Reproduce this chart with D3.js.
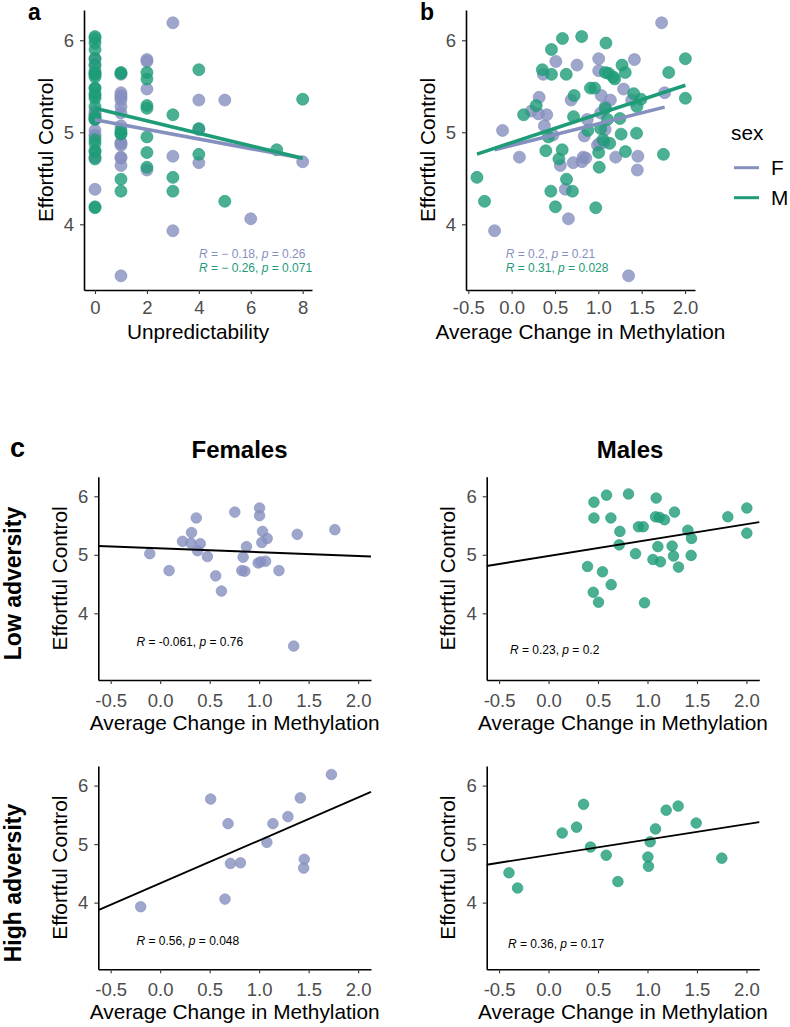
<!DOCTYPE html>
<html><head><meta charset="utf-8">
<script src="https://cdn.jsdelivr.net/npm/d3@7"></script>
<style>body{margin:0;background:#fff} svg{display:block}</style>
</head><body>
<svg id="chart" width="790" height="1027"></svg>
<script>
// ---------------- DATA ----------------
const sexLevels = ["F", "M"];
const sexColors = ["#8690BF", "#1E9C78"];

// Females, low adversity
const femLowMeth = [-0.105, 0.09, 0.226, 0.317, 0.365, 0.31, 0.405, 0.378, 0.477, 0.561, 0.619, 0.754, 0.872, 0.838, 0.825, 0.855, 1.004, 1.004, 1.034, 1.081, 1.027, 0.99, 1.014, 1.065, 1.20, 1.385, 1.765, 1.349];
const femLowEC = [5.02, 4.73, 5.23, 5.38, 5.63, 5.20, 5.19, 5.07, 4.97, 4.64, 4.38, 5.73, 5.14, 4.96, 4.73, 4.72, 5.80, 5.67, 5.40, 5.28, 5.21, 4.86, 4.88, 4.89, 4.73, 5.35, 5.43, 3.44];
const femLowUnpred = [0, 0, 0, 1, 1, 0, 0, 1, 0, 1, 0, 0, 0, 0, 0, 1, 0, 0, 1, 1, 1, 1, 1, 1, 1, 1, 1, 1];

// Females, high adversity
const femHighMeth = [-0.197, 0.51, 0.686, 0.655, 0.71, 0.811, 1.078, 1.139, 1.291, 1.416, 1.456, 1.45, 1.73];
const femHighEC = [3.93, 5.77, 5.35, 4.06, 4.67, 4.68, 5.03, 5.35, 5.47, 5.79, 4.74, 4.59, 6.19];
const femHighUnpred = [3, 2, 4, 6, 4, 8, 4, 5, 2, 2, 3, 2, 3];

// Males, low adversity
const maleLowMeth = [0.459, 0.586, 0.808, 1.088, 0.459, 0.630, 1.273, 1.081, 1.121, 1.172, 0.909, 0.957, 0.721, 1.812, 2.004, 2.004, 1.408, 1.445, 0.714, 1.105, 1.249, 0.879, 1.263, 1.441, 1.055, 1.131, 1.313, 0.394, 0.545, 0.633, 0.452, 0.505, 0.97];
const maleLowEC = [5.90, 6.02, 6.04, 5.97, 5.63, 5.63, 5.73, 5.65, 5.64, 5.60, 5.48, 5.48, 5.40, 5.65, 5.80, 5.37, 5.42, 5.28, 5.17, 5.14, 5.15, 5.02, 4.98, 4.99, 4.92, 4.88, 4.79, 4.80, 4.71, 4.49, 4.36, 4.19, 4.18];
const maleLowUnpred = [0, 0, 0, 0, 0, 0, 0, 1, 1, 0, 0, 0, 0, 0, 0, 0, 0, 0, 0, 0, 0, 1, 1, 1, 0, 0, 0, 0, 0, 1, 1, 0, 0];

// Males, high adversity
const maleHighMeth = [-0.40, -0.313, 0.138, 0.283, 0.354, 0.424, 0.583, 0.701, 1.004, 1.01, 1.027, 1.081, 1.189, 1.31, 1.492, 1.751];
const maleHighEC = [4.51, 4.25, 5.19, 5.29, 5.68, 4.95, 4.81, 4.36, 4.78, 4.62, 5.04, 5.26, 5.58, 5.65, 5.36, 4.76];
const maleHighUnpred = [3, 5, 3, 2, 4, 2, 7, 3, 2, 2, 4, 2, 2, 2, 8, 4];

// Ticks
const ecTicks = [4, 5, 6];
const ecTickLabels = ["4", "5", "6"];
const unpredTicks = [0, 2, 4, 6, 8];
const unpredTickLabels = ["0", "2", "4", "6", "8"];
const methTicks = [-0.5, 0, 0.5, 1, 1.5, 2];
const methTickLabels = ["-0.5", "0.0", "0.5", "1.0", "1.5", "2.0"];

// Correlation labels
const corrA_R = ["\u2212 0.18", "\u2212 0.26"];
const corrA_p = ["0.26", "0.071"];
const corrB_R = ["0.2", "0.31"];
const corrB_p = ["0.21", "0.028"];
const corrC_R = ["-0.061", "0.23", "0.56", "0.36"];   // FL, ML, FH, MH
const corrC_p = ["0.76", "0.2", "0.048", "0.17"];
const corrC_pos = [[-0.24, 3.52], [-0.39, 3.38], [-0.24, 3.35], [-0.41, 3.29]];

// ---------------- HELPERS ----------------
const FONT = "'Liberation Sans', Arial, Helvetica, sans-serif";
const svg = d3.select("#chart");

function zip(xs, ys) { return xs.map((v, i) => ({x: v, y: ys[i]})); }
function fit(pts) {
  const mx = d3.mean(pts, d => d.x), my = d3.mean(pts, d => d.y);
  let sxy = 0, sxx = 0;
  pts.forEach(d => { sxy += (d.x - mx) * (d.y - my); sxx += (d.x - mx) * (d.x - mx); });
  const b = sxy / sxx;
  return {a: my - b * mx, b: b};
}

function makePanel(cfg) {
  const g = svg.append("g");
  const x = d3.scaleLinear().domain(cfg.xDomain).range([cfg.left, cfg.right]);
  const y = d3.scaleLinear().domain(cfg.yDomain).range([cfg.bottom, cfg.top]);
  const xAxis = d3.axisBottom(x).tickValues(cfg.xTicks)
    .tickFormat((d, i) => cfg.xLabels[i]).tickSizeInner(4).tickSizeOuter(0).tickPadding(cfg.xPad);
  const yAxis = d3.axisLeft(y).tickValues(ecTicks)
    .tickFormat((d, i) => ecTickLabels[i]).tickSizeInner(4).tickSizeOuter(0).tickPadding(6);
  const gx = g.append("g").attr("transform", `translate(0,${cfg.bottom})`).call(xAxis);
  const gy = g.append("g").attr("transform", `translate(${cfg.left},0)`).call(yAxis);
  [gx, gy].forEach(a => {
    a.select(".domain").attr("stroke", "#000").attr("stroke-width", 1.6);
    a.selectAll(".tick line").attr("stroke", "#333").attr("stroke-width", 1.1);
    a.selectAll(".tick text").attr("fill", "#4D4D4D").style("font-family", FONT).style("font-size", "18.5px");
  });
  g.append("text").attr("x", (cfg.left + cfg.right) / 2).attr("y", cfg.bottom + cfg.titleOff)
    .attr("text-anchor", "middle").style("font-family", FONT).style("font-size", "20.8px")
    .attr("fill", "#000").text(cfg.xTitle);
  g.append("text").attr("transform", `translate(${cfg.left - 31.5},${(cfg.top + cfg.bottom) / 2}) rotate(-90)`)
    .attr("text-anchor", "middle").style("font-family", FONT).style("font-size", "20.8px")
    .attr("fill", "#000").text("Effortful Control");
  return {g, x, y};
}

function drawPoints(p, pts, color, r) {
  p.g.append("g").selectAll("circle").data(pts).join("circle")
    .attr("cx", d => p.x(d.x)).attr("cy", d => p.y(d.y)).attr("r", r)
    .attr("fill", color).attr("fill-opacity", 0.8)
    .attr("stroke", color).attr("stroke-opacity", 0.8).attr("stroke-width", 0.8);
}

function corrText(g, x, y, R, p, color, size) {
  const t = g.append("text").attr("x", x).attr("y", y).style("font-family", FONT)
    .style("font-size", size + "px").attr("fill", color);
  t.append("tspan").style("font-style", "italic").text("R");
  t.append("tspan").text(" = " + R + ", ");
  t.append("tspan").style("font-style", "italic").text("p");
  t.append("tspan").text(" = " + p);
}

// ---------------- PANELS A & B ----------------
const femAll = {
  meth: femLowMeth.concat(femHighMeth),
  ec: femLowEC.concat(femHighEC),
  unp: femLowUnpred.concat(femHighUnpred)
};
const maleAll = {
  meth: maleLowMeth.concat(maleHighMeth),
  ec: maleLowEC.concat(maleHighEC),
  unp: maleLowUnpred.concat(maleHighUnpred)
};
const groups = [femAll, maleAll];
const yTop = [3.286, 6.329];

function topPanel(cfg, key, R, P, annX) {
  const p = makePanel(cfg);
  groups.forEach((grp, i) => drawPoints(p, zip(grp[key], grp.ec), sexColors[i], 6));
  groups.forEach((grp, i) => {
    const pts = zip(grp[key], grp.ec); const f = fit(pts);
    const [x0, x1] = d3.extent(pts, d => d.x);
    p.g.append("line").attr("x1", p.x(x0)).attr("y1", p.y(f.a + f.b * x0))
      .attr("x2", p.x(x1)).attr("y2", p.y(f.a + f.b * x1))
      .attr("stroke", sexColors[i]).attr("stroke-width", 3.6);
  });
  R.forEach((r, i) => corrText(p.g, annX, 257.7 + i * 14.4, r, P[i], sexColors[i], 12));
}
topPanel({left: 84, right: 312, top: 10, bottom: 290, xDomain: [-0.424, 8.359], yDomain: yTop,
  xTicks: unpredTicks, xLabels: unpredTickLabels, xPad: 7, titleOff: 49, xTitle: "Unpredictability"},
  "unp", corrA_R, corrA_p, 199);
topPanel({left: 466, right: 695, top: 10, bottom: 290, xDomain: [-0.5265, 2.115], yDomain: yTop,
  xTicks: methTicks, xLabels: methTickLabels, xPad: 7, titleOff: 49, xTitle: "Average Change in Methylation"},
  "meth", corrB_R, corrB_p, 505.7);

// Legend
const leg = svg.append("g");
leg.append("text").attr("x", 731).attr("y", 140).style("font-family", FONT).style("font-size", "20.8px").text("sex");
sexLevels.forEach((s, i) => {
  const yy = 167.7 + i * 30;
  leg.append("line").attr("x1", 734).attr("x2", 759).attr("y1", yy).attr("y2", yy)
    .attr("stroke", sexColors[i]).attr("stroke-width", 3);
  leg.append("text").attr("x", 771).attr("y", yy + 7.3).style("font-family", FONT)
    .style("font-size", "20.8px").text(s);
});

// panel letters
[["a", 28, 20, 23], ["b", 420, 20, 23], ["c", 10, 457, 27]].forEach(([t, x, y, s]) =>
  svg.append("text").attr("x", x).attr("y", y).style("font-family", FONT).style("font-weight", "bold")
    .style("font-size", s + "px").text(t));

// ---------------- PANEL C ----------------
const cX = [-0.625, 2.13], cY = [2.86, 6.335];
const cfgs = [
  {left: 98.3, right: 371, top: 476.7, bottom: 680, meth: femLowMeth, ec: femLowEC, col: sexColors[0]},
  {left: 486.7, right: 759.3, top: 476.7, bottom: 680, meth: maleLowMeth, ec: maleLowEC, col: sexColors[1]},
  {left: 98.3, right: 371, top: 766, bottom: 969.3, meth: femHighMeth, ec: femHighEC, col: sexColors[0]},
  {left: 486.7, right: 759.3, top: 766, bottom: 969.3, meth: maleHighMeth, ec: maleHighEC, col: sexColors[1]}
];
cfgs.forEach((c, i) => {
  const p = makePanel({left: c.left, right: c.right, top: c.top, bottom: c.bottom, xDomain: cX, yDomain: cY,
    xTicks: methTicks, xLabels: methTickLabels, xPad: 10, titleOff: 50, xTitle: "Average Change in Methylation"});
  const pts = zip(c.meth, c.ec);
  drawPoints(p, pts, c.col, 5.3);
  const f = fit(pts);
  p.g.append("line").attr("x1", p.x(cX[0])).attr("y1", p.y(f.a + f.b * cX[0]))
    .attr("x2", p.x(cX[1])).attr("y2", p.y(f.a + f.b * cX[1]))
    .attr("stroke", "#000").attr("stroke-width", 1.9);
  corrText(p.g, p.x(corrC_pos[i][0]), p.y(corrC_pos[i][1]) + 4.2, corrC_R[i], corrC_p[i], "#000", 12);
});

// column / row headers
[["Females", 239.5], ["Males", 630]].forEach(([t, x]) =>
  svg.append("text").attr("x", x).attr("y", 458).attr("text-anchor", "middle").style("font-family", FONT)
    .style("font-weight", "bold").style("font-size", "24px").text(t));
[["Low adversity", 583.5], ["High adversity", 883]].forEach(([t, y]) =>
  svg.append("text").attr("transform", `translate(21,${y}) rotate(-90)`).attr("text-anchor", "middle")
    .style("font-family", FONT).style("font-weight", "bold").style("font-size", "23px").text(t));
</script>
</body></html>
